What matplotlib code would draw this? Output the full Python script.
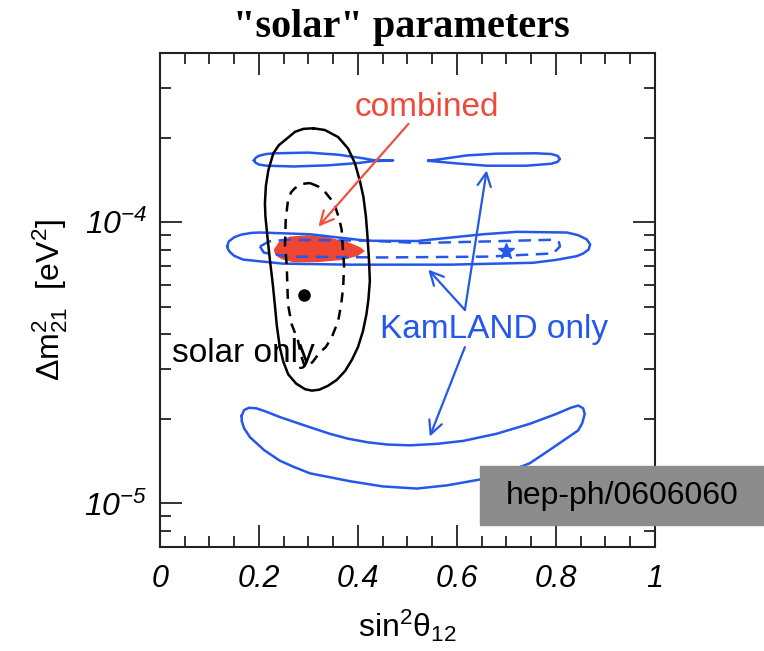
import numpy as np
import matplotlib
matplotlib.use('Agg')
import matplotlib.pyplot as plt
from matplotlib.patches import Rectangle
from matplotlib.ticker import MultipleLocator, LogLocator, NullFormatter

plt.rcParams['font.family'] = ['Liberation Sans', 'DejaVu Sans']
plt.rcParams['mathtext.fontset'] = 'custom'
plt.rcParams['mathtext.rm'] = 'Liberation Sans:italic'
plt.rcParams['mathtext.it'] = 'Liberation Sans:italic'
plt.rcParams['mathtext.sf'] = 'Liberation Sans'
plt.rcParams['mathtext.bf'] = 'Liberation Sans:bold'

# contours: x = sin^2(theta12), y = dm2_21 in 1e-5 eV^2
solar_outer_x = [0.310, 0.333, 0.360, 0.380, 0.394, 0.404, 0.411, 0.416, 0.419, 0.422, 0.424, 0.421,
                 0.417, 0.410, 0.400, 0.388, 0.374, 0.357, 0.339, 0.322, 0.307, 0.293, 0.275, 0.259,
                 0.249, 0.242, 0.236, 0.232, 0.228, 0.222, 0.217, 0.213, 0.212, 0.214, 0.219, 0.229,
                 0.240, 0.2525, 0.273, 0.290, 0.310]
solar_outer_y = [21.6, 21.3, 20.1, 18.3, 16.2, 14.0, 12.3, 10.5, 9.0, 7.5, 6.2, 5.3,
                 4.7, 4.1, 3.6, 3.25, 2.96, 2.75, 2.62, 2.54, 2.52, 2.55, 2.67, 2.88,
                 3.2, 3.6, 4.3, 5.1, 6.0, 7.37, 8.9, 10.5, 11.7, 13.5, 15.35, 17.6,
                 18.8, 19.6, 21.0, 21.5, 21.6]

solar_inner_x = [0.303, 0.320, 0.333, 0.345, 0.354, 0.362, 0.367, 0.370, 0.372, 0.370, 0.366, 0.360,
                 0.347, 0.335, 0.323, 0.308, 0.293, 0.285, 0.279, 0.266, 0.2586, 0.256, 0.2525,
                 0.254, 0.2586, 0.265, 0.273, 0.288, 0.303]
solar_inner_y = [13.8, 13.4, 12.85, 12.1, 11.37, 10.3, 9.41, 7.8, 7.0, 5.86, 5.1, 4.46,
                 3.90, 3.6, 3.45, 3.18, 3.06, 3.35, 3.79, 4.34, 5.11, 7.07, 8.21,
                 10.2, 12.0, 12.8, 13.25, 13.7, 13.8]

solar_best = (0.291, 5.51)

combined_x = [0.230, 0.240, 0.262, 0.300, 0.340, 0.380, 0.405, 0.414, 0.400, 0.370, 0.320, 0.270,
              0.245, 0.233, 0.230]
combined_y = [8.0, 8.5, 8.9, 9.0, 8.85, 8.5, 8.15, 7.9, 7.6, 7.35, 7.22, 7.2,
              7.4, 7.65, 8.0]

kam_band_x = [0.136, 0.139, 0.150, 0.165, 0.185, 0.202, 0.303, 0.418, 0.519, 0.653, 0.721, 0.822,
              0.845, 0.862, 0.869, 0.866, 0.855, 0.842, 0.800, 0.754, 0.586, 0.384, 0.248, 0.168,
              0.150, 0.141, 0.137, 0.136]
kam_band_y = [8.23, 8.55, 8.85, 9.05, 9.17, 9.2, 9.07, 8.6, 8.58, 9.07, 9.25, 9.2,
              9.0, 8.7, 8.35, 8.0, 7.75, 7.58, 7.35, 7.18, 7.07, 7.07, 7.13, 7.37,
              7.6, 7.85, 8.05, 8.23]

kam_band_in_x = [0.202, 0.220, 0.256, 0.424, 0.525, 0.660, 0.794, 0.806, 0.808, 0.794, 0.660, 0.450,
                 0.260, 0.210, 0.202]
kam_band_in_y = [8.2, 8.55, 8.67, 8.6, 8.44, 8.55, 8.67, 8.5, 8.2, 7.75, 7.55, 7.5,
                 7.55, 7.8, 8.2]

kam_best = (0.700, 7.88)

kam_up_left_x = [0.190, 0.193, 0.200, 0.215, 0.232, 0.300, 0.360, 0.410, 0.430, 0.471, 0.430, 0.400,
                 0.340, 0.270, 0.215, 0.200, 0.193, 0.190]
kam_up_left_y = [16.6, 16.95, 17.25, 17.5, 17.6, 17.7, 17.4, 16.9, 16.65, 16.6, 16.5, 16.25,
                 15.95, 15.8, 15.9, 16.05, 16.3, 16.6]

kam_up_right_x = [0.542, 0.580, 0.620, 0.680, 0.760, 0.790, 0.803, 0.808, 0.803, 0.790, 0.740, 0.660,
                  0.600, 0.542]
kam_up_right_y = [16.55, 16.9, 17.3, 17.55, 17.6, 17.5, 17.25, 16.8, 16.4, 16.15, 15.9, 15.9,
                  16.2, 16.55]

kam_low_x = [0.165, 0.170, 0.180, 0.195, 0.215, 0.242, 0.290, 0.343, 0.380, 0.420, 0.460, 0.505,
             0.560, 0.613, 0.680, 0.747, 0.800, 0.830, 0.845, 0.855, 0.858, 0.853, 0.845, 0.814,
             0.780, 0.747, 0.700, 0.650, 0.580, 0.519, 0.450, 0.384, 0.303, 0.270, 0.242, 0.210,
             0.182, 0.170, 0.165, 0.165]
kam_low_y = [2.05, 2.15, 2.19, 2.18, 2.12, 2.03, 1.90, 1.77, 1.70, 1.65, 1.62, 1.61,
             1.63, 1.67, 1.77, 1.92, 2.08, 2.19, 2.23, 2.18, 2.08, 1.93, 1.82, 1.67,
             1.52, 1.39, 1.29, 1.22, 1.16, 1.13, 1.15, 1.20, 1.28, 1.35, 1.42, 1.55,
             1.72, 1.85, 1.97, 2.05]

# arrows: (start, tip)
red_arrow = ((0.502, 22.4), (0.320, 9.66))
blue_arrows = [((0.616, 4.88), (0.660, 15.3)),
               ((0.616, 4.88), (0.542, 6.79)),
               ((0.616, 3.60), (0.545, 1.73))]

xticks = [0, 0.2, 0.4, 0.6, 0.8, 1]
xtick_labels = ['0', '0.2', '0.4', '0.6', '0.8', '1']
yticks = [1e-5, 1e-4]
ytick_labels = [r'$10^{-5}$', r'$10^{-4}$']

blue = '#2458ea'
red = '#ee4632'
unit = 1e-5

fig = plt.figure(figsize=(7.64, 6.51), dpi=100)
ax = fig.add_axes([0.2094, 0.1597, 0.6479, 0.7588])

ax.fill(combined_x, np.array(combined_y) * unit, color=red, lw=0, zorder=1)
ax.plot(solar_outer_x, np.array(solar_outer_y) * unit, color='black', lw=1.8, zorder=3)
ax.plot(solar_inner_x, np.array(solar_inner_y) * unit, color='black', lw=1.8, ls=(0, (4, 3)), zorder=3)
ax.plot([solar_best[0]], [solar_best[1] * unit], 'o', color='black', ms=8, zorder=4)

ax.plot(kam_band_x, np.array(kam_band_y) * unit, color=blue, lw=1.8, zorder=2)
ax.plot(kam_band_in_x, np.array(kam_band_in_y) * unit, color=blue, lw=1.8, ls=(0, (5, 3)), zorder=2)
ax.plot(kam_up_left_x, np.array(kam_up_left_y) * unit, color=blue, lw=1.8, zorder=2)
ax.plot(kam_up_right_x, np.array(kam_up_right_y) * unit, color=blue, lw=1.8, zorder=2)
ax.plot(kam_low_x, np.array(kam_low_y) * unit, color=blue, lw=1.8, zorder=2)
ax.plot([kam_best[0]], [kam_best[1] * unit], '*', color=blue, ms=12, zorder=4)

ap = dict(arrowstyle='->,head_length=0.8,head_width=0.4', mutation_scale=12,
          shrinkA=0, shrinkB=0, lw=1.6)
(sx, sy), (tx, ty) = red_arrow
ax.annotate('', xy=(tx, ty * unit), xytext=(sx, sy * unit), arrowprops=dict(ap, color='#f0503c'), zorder=5)
for (sx, sy), (tx, ty) in blue_arrows:
    ax.annotate('', xy=(tx, ty * unit), xytext=(sx, sy * unit), arrowprops=dict(ap, color=blue), zorder=5)

ax.text(0.540, 23.8 * unit, 'combined', color='#ee4a3a', fontsize=24, ha='center', va='baseline')
ax.text(0.675, 3.87 * unit, 'KamLAND only', color=blue, fontsize=24, ha='center', va='baseline')
ax.text(0.024, 3.18 * unit, 'solar only', color='black', fontsize=24, ha='left', va='baseline')

ax.set_xlim(0, 1)
ax.set_yscale('log')
ax.set_ylim(7e-6, 4e-4)
ax.set_xticks(xticks, xtick_labels, fontsize=22, fontstyle='italic')
ax.set_yticks(yticks, ytick_labels, fontsize=23)
ax.xaxis.set_minor_locator(MultipleLocator(0.05))
ax.yaxis.set_minor_locator(LogLocator(base=10, subs=(2, 3, 4, 5, 6, 7, 8, 9)))
ax.yaxis.set_minor_formatter(NullFormatter())
ax.tick_params(which='both', direction='in', top=True, right=True, width=1.3, color='#222222')
ax.tick_params(which='major', length=16)
ax.tick_params(which='minor', length=8)
ax.tick_params(axis='x', pad=12)
ax.tick_params(axis='y', pad=9)
for s in ax.spines.values():
    s.set_linewidth(1.5)
    s.set_color('#222222')

ax.set_xlabel(r'$\mathsf{sin^2\theta_{12}}$', fontsize=23, labelpad=10)
ax.set_ylabel(r'$\mathsf{\Delta m^2_{21}}$  [eV$^{\mathsf{2}}$]', fontsize=23, labelpad=10)

fig.text(0.525, 1 - 37 / 651, '"solar" parameters', fontsize=29, fontweight='bold',
         family='Liberation Serif', ha='center', va='baseline')

fig.add_artist(Rectangle((480 / 764, 1 - 525 / 651), 1 - 480 / 764, 59 / 651,
                         transform=fig.transFigure, color='#8c8c8c', zorder=10))
fig.text(622 / 764, 1 - 496 / 651, 'hep-ph/0606060', fontsize=23, ha='center', va='center', zorder=11)

fig.savefig('out.png', dpi=100)
